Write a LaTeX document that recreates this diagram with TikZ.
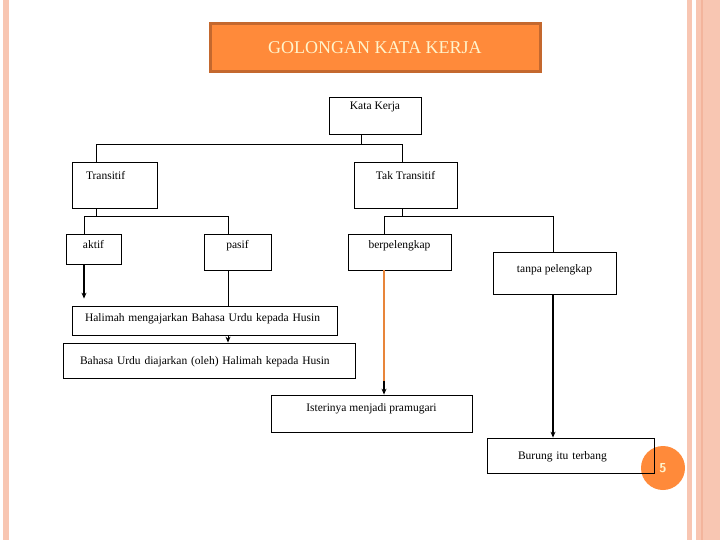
\documentclass[tikz,border=0pt]{standalone}
\usepackage{fontspec}
\setmainfont{Liberation Serif}
\usepackage{xcolor}
\usepackage{tikz}
\usetikzlibrary{arrows.meta,positioning}

\definecolor{titlefill}{HTML}{FF8A3A}
\definecolor{titledraw}{HTML}{C4682E}
\definecolor{cream}{HTML}{FFF4CC}
\definecolor{stripe}{HTML}{F8C6B2}
\definecolor{stripedark}{HTML}{F3B49C}
\definecolor{orangeline}{HTML}{E8853A}

\begin{document}
\begin{tikzpicture}[
    x=1pt, y=-1pt,
    box/.style={draw, line width=0.8pt, inner ysep=0pt, minimum height=#1, font=\fontsize{11.5}{13}\selectfont},
    tb/.style 2 args={text height=#1, text depth=#2},
    lbox/.style 2 args={text width=#1, inner xsep=#2, align=left},
    title/.style={draw=titledraw, line width=3pt, fill=titlefill, text=cream, minimum width=330, minimum height=48, font=\fontsize{18}{21}\selectfont},
    line/.style={line width=0.8pt},
    arrow/.style={-{Stealth[length=6pt,width=5pt]}, line width=1.6pt}
]
    \useasboundingbox (0,0) rectangle (720,540);

    % side stripes
    \fill[stripe] (3,0) rectangle (9,540);
    \fill[stripe] (687,0) rectangle (692,540);
    \fill[stripe] (696,0) rectangle (720,540);
    \fill[stripedark] (701,0) rectangle (703,540);

    \node[title] (title) at (375,48) {GOLONGAN KATA KERJA};

    % page number under the last box
    \node[circle, fill=titlefill, minimum size=44, text=cream, font=\fontsize{13}{15}\selectfont\bfseries\sffamily] (pnum) at (663,468) {5};

    \node[box=37, minimum width=92, tb={13}{24}] (kata) at (375,115.5) {Kata Kerja};
    \node[box=46, lbox={57}{14}, tb={18}{28}] (trans) at (114.5,185) {Transitif};
    \node[box=46, minimum width=103, tb={18}{28}] (ttrans) at (405.5,185) {Tak Transitif};
    \node[box=30, minimum width=55, tb={14}{16}] (aktif) at (93.5,249) {aktif};
    \node[box=36, minimum width=67, tb={14}{22}] (pasif) at (237.5,252) {pasif};
    \node[box=36, minimum width=103, tb={14}{22}] (berp) at (399.5,252) {berpelengkap};
    \node[box=42, minimum width=123, tb={20}{22}] (tanpa) at (554.5,273) {tanpa pelengkap};
    \node[box=29, lbox={239}{13}, tb={15}{14}] (halimah) at (204.5,320.5) {Halimah mengajarkan Bahasa Urdu kepada Husin};
    \node[box=35, lbox={258}{17}, tb={21}{14}] (bahasa) at (209,360.5) {Bahasa Urdu diajarkan (oleh) Halimah kepada Husin};
    \node[box=37, minimum width=201, tb={16}{21}] (isteri) at (371.5,413.5) {Isterinya menjadi pramugari};
    \node[box=35, lbox={105}{31}, tb={21}{14}] (burung) at (570.5,455.5) {Burung itu terbang};

    % junctions
    \coordinate (jk) at (361,144);
    \coordinate (jt) at (96,144);
    \coordinate (jtt) at (402,144);
    \coordinate (jtr) at (96,216);
    \coordinate (ja) at (84,216);
    \coordinate (jp) at (228,216);
    \coordinate (jtk) at (402,216);
    \coordinate (jb) at (384,216);
    \coordinate (jn) at (553,216);
    \coordinate (jo) at (384,381);

    \draw[line] (jk |- kata.south) -- (jk);
    \draw[line] (jt |- trans.north) -- (jt) -- (jtt) -- (jtt |- ttrans.north);
    \draw[line] (jtr |- trans.south) -- (jtr);
    \draw[line] (ja |- aktif.north) -- (ja) -- (jp) -- (jp |- pasif.north);
    \draw[line] (jtk |- ttrans.south) -- (jtk);
    \draw[line] (jb |- berp.north) -- (jb) -- (jn) -- (jn |- tanpa.north);

    \draw[arrow, shorten >=7pt] (ja |- aktif.south) -- (ja |- halimah.north);
    \draw[line] (jp |- pasif.south) -- (jp |- halimah.north);
    \draw[arrow, line width=0.9pt] (jp |- halimah.south) -- (jp |- bahasa.north);
    \draw[orangeline, line width=2pt] (jb |- berp.south) -- (jo);
    \draw[arrow] (jo) -- (jb |- isteri.north);
    \draw[arrow] (jn |- tanpa.south) -- (jn |- burung.north);
\end{tikzpicture}
\end{document}
